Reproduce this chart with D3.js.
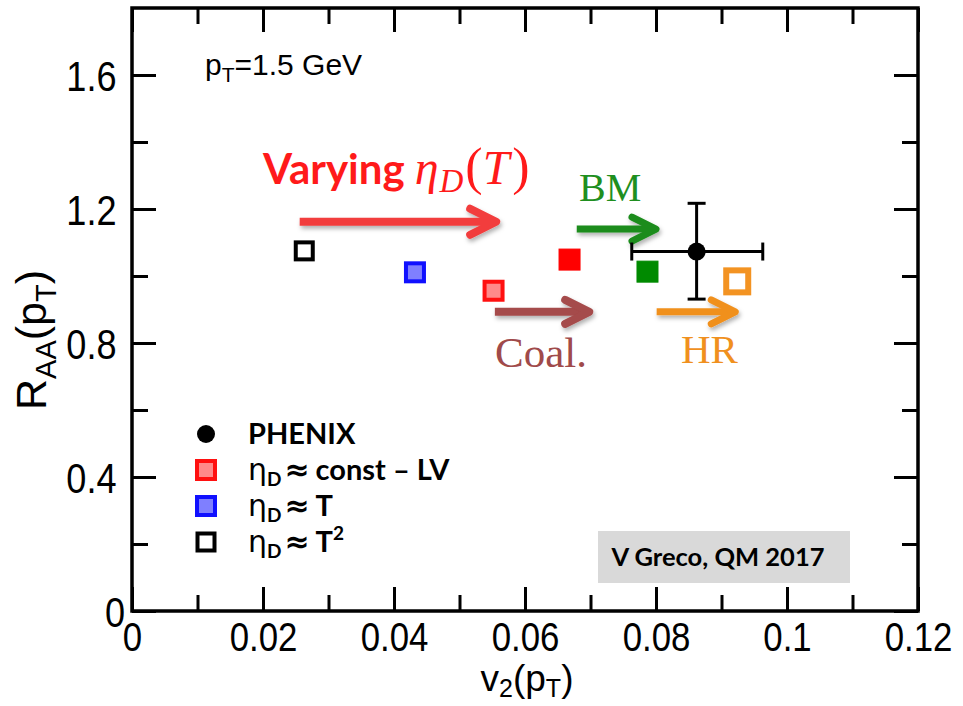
<!DOCTYPE html>
<html><head><meta charset="utf-8">
<script src="https://cdn.jsdelivr.net/npm/d3@7"></script>
<style>body{margin:0;background:#fff}svg{display:block}</style>
</head><body><svg id="c" width="963" height="706"></svg>
<script>
// ---- data ----
const xMajorTicks = [0, 0.02, 0.04, 0.06, 0.08, 0.1, 0.12];
const xMajorLabels = ["0", "0.02", "0.04", "0.06", "0.08", "0.1", "0.12"];
const xMinorTicks = [0.01, 0.03, 0.05, 0.07, 0.09, 0.11];
const yMajorTicks = [0, 0.4, 0.8, 1.2, 1.6];
const yMajorLabels = ["0", "0.4", "0.8", "1.2", "1.6"];
const yMinorTicks = [0.2, 0.6, 1.0, 1.4];

const modelNames = ["eta_T2", "eta_T", "eta_constLV", "coal", "BM", "HR"];
const modelV2 = [0.0263, 0.0432, 0.0552, 0.0668, 0.0787, 0.0924];
const modelRAA = [1.075, 1.011, 0.956, 1.049, 1.013, 0.984];

const phenixV2 = [0.0862];
const phenixRAA = [1.073];
const phenixV2Lo = [0.0763];
const phenixV2Hi = [0.0963];
const phenixRAALo = [0.931];
const phenixRAAHi = [1.217];

const arrowNames = ["varying", "coal", "BM", "HR"];
const arrowV2Start = [0.0256, 0.0554, 0.0679, 0.0801];
const arrowV2End = [0.0556, 0.0698, 0.0800, 0.0921];
const arrowRAA = [1.162, 0.893, 1.140, 0.893];

const legendLabels = ["PHENIX", "const – LV", "T", "T"];

// ---- styles ----
const modelStyle = {
  eta_T2: {fill: "#fff", stroke: "#000", sw: 4, size: 21},
  eta_T: {fill: "#7f7fff", stroke: "#1010ff", sw: 4, size: 22},
  eta_constLV: {fill: "#ff8a8a", stroke: "#ff1010", sw: 4, size: 22},
  coal: {fill: "#ff0000", stroke: "#ff0000", sw: 1, size: 22},
  BM: {fill: "#008a00", stroke: "#008a00", sw: 1, size: 22},
  HR: {fill: "#fff", stroke: "#f39322", sw: 6, size: 28}
};
const arrowStyle = {
  varying: {color: "#f23d3d", sw: 8, back: 26, half: 13},
  coal: {color: "#a54b4b", sw: 8, back: 24, half: 12},
  BM: {color: "#1c8c1c", sw: 7, back: 24, half: 12},
  HR: {color: "#f0901e", sw: 7, back: 24, half: 12}
};

const svg = d3.select("#c");
const L = 132, R = 918, T = 8, B = 611;
const x = d3.scaleLinear().domain([0, 0.12]).range([L, R]);
const y = d3.scaleLinear().domain([0, 1.8]).range([B, T]);

const defs = svg.append("defs");
const f = defs.append("filter").attr("id", "sh").attr("x", "-20%").attr("y", "-50%").attr("width", "140%").attr("height", "200%");
f.append("feDropShadow").attr("dx", 1.5).attr("dy", 3).attr("stdDeviation", 2).attr("flood-color", "#000").attr("flood-opacity", 0.3);

// axes (ticks inward, mirrored)
const tickFont = "'Liberation Sans', Arial, sans-serif";
function styleAxis(g) {
  g.select(".domain").remove();
  g.selectAll("line").attr("stroke", "#000").attr("stroke-width", 3);
}
svg.append("g").attr("transform", `translate(0,${B})`)
  .call(d3.axisBottom(x).tickValues(xMajorTicks).tickSize(-24).tickPadding(40).tickFormat((d, i) => xMajorLabels[i]))
  .call(styleAxis)
  .call(g => g.selectAll("text").attr("font-family", tickFont).attr("font-size", 40).attr("fill", "#000").attr("dy", "0")
    .attr("transform", "scale(0.87,1)").attr("x", 0));
svg.append("g").attr("transform", `translate(0,${B})`)
  .call(d3.axisBottom(x).tickValues(xMinorTicks).tickSize(-16).tickFormat(""))
  .call(styleAxis);
svg.append("g").attr("transform", `translate(0,${T})`)
  .call(d3.axisTop(x).tickValues(xMajorTicks.concat(xMinorTicks)).tickSize(0).tickFormat(""))
  .call(styleAxis)
  .call(g => g.selectAll(".tick line").attr("y2", (d) => xMinorTicks.includes(d) ? 16 : 24));
svg.append("g").attr("transform", `translate(${L},0)`)
  .call(d3.axisLeft(y).tickValues(yMajorTicks).tickSize(-24).tickPadding(18).tickFormat((d, i) => yMajorLabels[i]))
  .call(styleAxis)
  .call(g => g.selectAll("text").attr("font-family", tickFont).attr("font-size", 42).attr("fill", "#000").attr("dy", "0.36em")
    .attr("transform", "scale(0.86,1)")
    .attr("x", (d) => d === 0 ? -8 : -18));
svg.append("g").attr("transform", `translate(${L},0)`)
  .call(d3.axisLeft(y).tickValues(yMinorTicks).tickSize(-16).tickFormat(""))
  .call(styleAxis);
svg.append("g").attr("transform", `translate(${R},0)`)
  .call(d3.axisRight(y).tickValues(yMajorTicks.concat(yMinorTicks)).tickSize(0).tickFormat(""))
  .call(styleAxis)
  .call(g => g.selectAll(".tick line").attr("x2", (d) => yMinorTicks.includes(d) ? -16 : -24));

svg.append("rect").attr("x", L).attr("y", T).attr("width", R - L).attr("height", B - T)
  .attr("fill", "none").attr("stroke", "#000").attr("stroke-width", 3.5);

// axis titles
const yt = svg.append("text").attr("transform", "translate(46,340) rotate(-90)")
  .attr("text-anchor", "middle").attr("font-family", tickFont).attr("font-size", 43).attr("fill", "#000");
yt.append("tspan").text("R");
yt.append("tspan").attr("font-size", 29).attr("dy", 10).text("AA");
yt.append("tspan").attr("dy", -10).text("(p");
yt.append("tspan").attr("font-size", 29).attr("dy", 10).text("T");
yt.append("tspan").attr("dy", -10).text(")");

const xt = svg.append("text").attr("x", 527).attr("y", 691)
  .attr("text-anchor", "middle").attr("font-family", tickFont).attr("font-size", 37).attr("fill", "#000");
xt.append("tspan").text("v");
xt.append("tspan").attr("font-size", 25).attr("dy", 6).text("2");
xt.append("tspan").attr("dy", -6).text("(p");
xt.append("tspan").attr("font-size", 25).attr("dy", 6).text("T");
xt.append("tspan").attr("dy", -6).text(")");

// pT label
const pt = svg.append("text").attr("x", 205).attr("y", 75).attr("font-family", tickFont).attr("font-size", 30).attr("fill", "#000");
pt.append("tspan").text("p");
pt.append("tspan").attr("font-size", 21).attr("dy", 7).text("T");
pt.append("tspan").attr("dy", -7).text("=1.5 GeV");

// arrows
arrowNames.forEach((n, i) => {
  const s = arrowStyle[n];
  const x0 = x(arrowV2Start[i]), x1 = x(arrowV2End[i]), yy = y(arrowRAA[i]);
  const g = svg.append("g").attr("filter", "url(#sh)");
  g.append("line").attr("x1", x0).attr("x2", x1 - 4).attr("y1", yy).attr("y2", yy)
    .attr("stroke", s.color).attr("stroke-width", s.sw);
  g.append("path").attr("d", `M${x1 - s.back},${yy - s.half}L${x1},${yy}L${x1 - s.back},${yy + s.half}`)
    .attr("fill", "none").attr("stroke", s.color).attr("stroke-width", s.sw)
    .attr("stroke-linecap", "round").attr("stroke-linejoin", "round");
});

// annotation texts
const serif = "'Liberation Serif', 'DejaVu Serif', serif";
const va = svg.append("text").attr("x", 263).attr("y", 184).attr("fill", "#ff1a1a");
va.append("tspan").attr("font-family", "Lato, sans-serif").attr("font-weight", "bold").attr("font-size", 42).text("Varying");
va.append("tspan").attr("font-family", serif).attr("font-style", "italic").attr("font-size", 48).attr("dx", 10).text("η");
va.append("tspan").attr("font-family", serif).attr("font-style", "italic").attr("font-size", 33).attr("dy", 8).attr("dx", 1).text("D");
va.append("tspan").attr("font-family", serif).attr("font-size", 52).attr("dy", -8).attr("dx", 2).text("(");
va.append("tspan").attr("font-family", serif).attr("font-style", "italic").attr("font-size", 48).text("T");
va.append("tspan").attr("font-family", serif).attr("font-size", 52).attr("dx", 3).text(")");

svg.append("text").attr("x", 579).attr("y", 201).attr("font-family", serif).attr("font-size", 40).attr("fill", "#1f8f1f").text("BM");
svg.append("text").attr("x", 495).attr("y", 367).attr("font-family", serif).attr("font-size", 43).attr("fill", "#a04a4a").text("Coal.");
svg.append("text").attr("x", 681).attr("y", 363).attr("font-family", serif).attr("font-size", 41).attr("fill", "#f0901e").text("HR");

// model markers
modelNames.forEach((n, i) => {
  const s = modelStyle[n];
  const inner = s.size - s.sw;
  svg.append("rect").attr("x", x(modelV2[i]) - inner / 2).attr("y", y(modelRAA[i]) - inner / 2)
    .attr("width", inner).attr("height", inner)
    .attr("fill", s.fill).attr("stroke", s.stroke).attr("stroke-width", s.sw);
});

// PHENIX point
phenixV2.forEach((v, i) => {
  const cx = x(v), cy = y(phenixRAA[i]);
  const g = svg.append("g").attr("stroke", "#000").attr("stroke-width", 3);
  g.append("line").attr("x1", x(phenixV2Lo[i])).attr("x2", x(phenixV2Hi[i])).attr("y1", cy).attr("y2", cy);
  g.append("line").attr("x1", cx).attr("x2", cx).attr("y1", y(phenixRAALo[i])).attr("y2", y(phenixRAAHi[i]));
  g.append("line").attr("x1", cx - 9).attr("x2", cx + 9).attr("y1", y(phenixRAALo[i])).attr("y2", y(phenixRAALo[i]));
  g.append("line").attr("x1", cx - 9).attr("x2", cx + 9).attr("y1", y(phenixRAAHi[i])).attr("y2", y(phenixRAAHi[i]));
  g.append("line").attr("x1", x(phenixV2Lo[i])).attr("x2", x(phenixV2Lo[i])).attr("y1", cy - 9).attr("y2", cy + 9);
  g.append("line").attr("x1", x(phenixV2Hi[i])).attr("x2", x(phenixV2Hi[i])).attr("y1", cy - 9).attr("y2", cy + 9);
  svg.append("circle").attr("cx", cx).attr("cy", cy).attr("r", 9).attr("fill", "#000");
});

// legend
const lf = "Lato, sans-serif";
const legRowY = [434, 470, 506, 542];
const legMarkerX = 206, legTextX = 248;
svg.append("circle").attr("cx", legMarkerX).attr("cy", legRowY[0]).attr("r", 9).attr("fill", "#000");
svg.append("text").attr("x", legTextX).attr("y", legRowY[0] + 10).attr("font-family", lf).attr("font-weight", "bold").attr("font-size", 29).text(legendLabels[0]);
const legStyles = ["eta_constLV", "eta_T", "eta_T2"];
legStyles.forEach((n, k) => {
  const s = modelStyle[n];
  const inner = s.size - s.sw;
  const cy = legRowY[k + 1];
  svg.append("rect").attr("x", legMarkerX - inner / 2).attr("y", cy - inner / 2).attr("width", inner).attr("height", inner)
    .attr("fill", s.fill).attr("stroke", s.stroke).attr("stroke-width", s.sw);
  const t = svg.append("text").attr("x", legTextX).attr("y", cy + 10).attr("font-family", lf).attr("font-weight", "bold").attr("font-size", 29);
  t.append("tspan").attr("font-family", "'DejaVu Sans', sans-serif").attr("font-weight", "normal").attr("font-size", 30).text("η");
  t.append("tspan").attr("font-size", 19).attr("dy", 6).text("D");
  t.append("tspan").attr("dy", -6).attr("dx", 3).attr("font-family", "'DejaVu Sans', sans-serif").attr("font-size", 30).text("≈");
  t.append("tspan").attr("dx", 6).text(legendLabels[k + 1]);
  if (k === 2) t.append("tspan").attr("font-size", 19).attr("dy", -12).text("2");
});

// credit box
svg.append("rect").attr("x", 598).attr("y", 531).attr("width", 252).attr("height", 52).attr("fill", "#d9d9d9");
svg.append("text").attr("x", 718).attr("y", 566).attr("text-anchor", "middle").attr("font-family", lf)
  .attr("font-weight", "bold").attr("font-size", 25.5).attr("fill", "#000").text("V Greco, QM 2017");
</script></body></html>
